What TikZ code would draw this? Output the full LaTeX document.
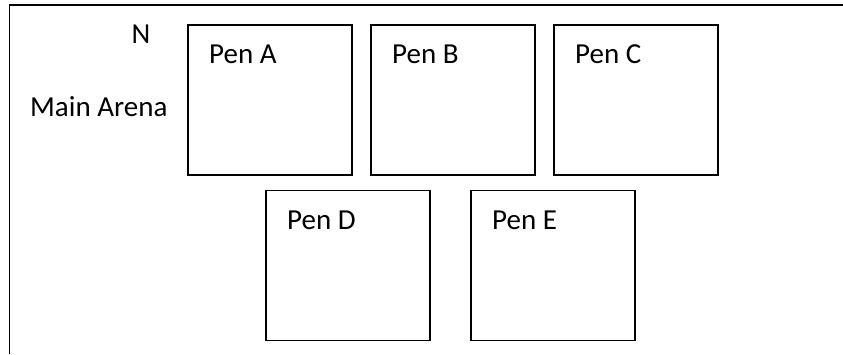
\documentclass[tikz,border=0pt]{standalone}
\usepackage{fontspec}
\setmainfont{Carlito}
\usetikzlibrary{positioning}

\begin{document}
\begin{tikzpicture}[x=1pt,y=1pt,font=\fontsize{29}{35}\selectfont,
  pen/.style={draw,line width=1.8pt,minimum width=164pt,minimum height=150pt,inner sep=0pt,outer sep=0pt},
  lbl/.style={inner sep=0pt,anchor=base west}]
  \useasboundingbox (0,0) rectangle (843,354);
  % arena edge
  \draw[line width=1.8pt] (9.5,0) -- (9.5,349) -- (843,349);
  \node[inner sep=0pt,anchor=base] (north) at (141,310) {N};
  \node[inner sep=0pt,anchor=base] (arena) at (98.8,237) {Main Arena};
  % pens
  \node[pen] (penA) at (270,254) {};
  \node[pen,right=19pt of penA] (penB) {};
  \node[pen,right=19pt of penB] (penC) {};
  \node[pen] (penD) at (348,88.5) {};
  \node[pen,right=41pt of penD] (penE) {};
  \foreach \p/\t in {A/Pen A,B/Pen B,C/Pen C,D/Pen D,E/Pen E}
    \node[lbl] at ([shift={(21,-39)}]pen\p.north west) {\t};
\end{tikzpicture}
\end{document}
